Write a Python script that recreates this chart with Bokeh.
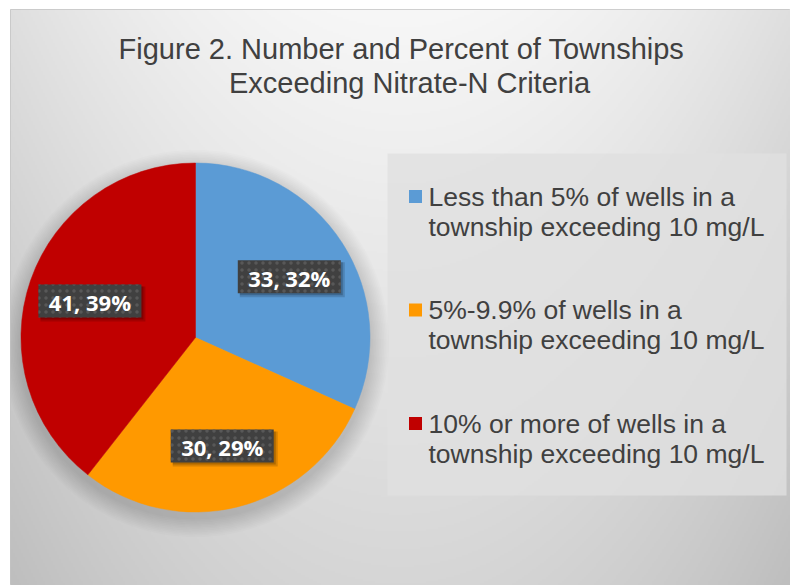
import numpy as np
from bokeh.plotting import figure
from bokeh.models import Range1d
from bokeh.core.properties import value
from bokeh.embed import file_html
from bokeh.resources import INLINE

# ---------------- data ----------------
title_lines = ["Figure 2.  Number and Percent of Townships",
               "Exceeding Nitrate-N Criteria"]
legend_line1 = ["Less than 5% of wells in a",
                "5%-9.9%  of wells in a",
                "10% or more  of wells in a"]
legend_line2 = ["township exceeding 10 mg/L",
                "township exceeding 10 mg/L",
                "township exceeding 10 mg/L"]
counts = [33, 30, 41]
colors = ["#5B9BD5", "#FF9900", "#C00000"]

# ---------------- layout (pixel-like data space) ----------------
W, H = 790, 585
X0, X1 = 10, 790           # frame x extent (page px)
TOP, BOT = 9, 585          # frame y extent (page px)
def Y(yi):
    return BOT - yi

p = figure(width=W, height=H, output_backend="svg", toolbar_location=None,
           x_range=Range1d(X0, X1), y_range=Range1d(0, BOT - TOP),
           min_border_left=X0, min_border_top=TOP, min_border_right=0, min_border_bottom=0,
           x_axis_location=None, y_axis_location=None)
p.grid.visible = False
p.border_fill_color = "white"
p.background_fill_color = "#d8d8d8"
p.outline_line_color = "#c4c4c4"
p.outline_line_width = 1

# background gradient (style only)
nx, ny = 390, 288
xs = np.linspace(X0, X1, nx)
yd = np.linspace(0, BOT - TOP, ny)
XX, YD = np.meshgrid(xs, yd)
YI = BOT - YD
t = (YI - TOP) / 576.0
u = (XX - 400) / 390.0
c = np.clip(247 - 33 * t - 24 * u ** 2, 0, 255).astype(np.uint8)
arr = np.empty((ny, nx, 4), dtype=np.uint8)
arr[..., 0] = c
arr[..., 1] = c
arr[..., 2] = c
arr[..., 3] = 255
img = arr.view(np.uint32).reshape(ny, nx)
p.image_rgba(image=[img], x=X0, y=0, dw=X1 - X0, dh=BOT - TOP)

# title
p.text(x=[405, 409], y=[Y(48), Y(82)], text=title_lines,
       text_align="center", text_baseline="alphabetic",
       text_font=value("Liberation Sans"), text_font_size="29px",
       text_color="#404040")

# legend box
p.quad(left=387, right=786, top=Y(153), bottom=Y(495),
       fill_color="#e0e0e0", fill_alpha=0.8, line_color=None)

# pie
cx, cy, R = 195, Y(337), 174.5
# soft shadow
radii = [R + 1.6 * k for k in range(1, 13)]
p.circle(x=[cx] * len(radii), y=[cy - 6] * len(radii), radius=radii,
         fill_color="black", fill_alpha=0.013, line_color=None)

total = float(sum(counts))
frac = np.array(counts) / total
cum = np.concatenate([[0.0], np.cumsum(frac)])
start = np.pi / 2 - 2 * np.pi * cum[:-1]
end = np.pi / 2 - 2 * np.pi * cum[1:]
p.wedge(x=cx, y=cy, radius=R, start_angle=start, end_angle=end,
        direction="clock", fill_color=colors, line_color=colors, line_width=0.5)

# data labels
mid = np.pi / 2 - 2 * np.pi * (cum[:-1] + frac / 2)
lx = cx + 0.64 * R * np.cos(mid)
ly = cy + 0.64 * R * np.sin(mid)
labels = [f"{n}, {round(f * 100)}%" for n, f in zip(counts, frac)]
p.rect(x=lx + 3, y=ly - 3, width=105, height=35, fill_color="black",
       fill_alpha=0.15, line_color=None)
p.rect(x=lx + 2, y=ly - 2, width=103, height=33, fill_color="black",
       fill_alpha=0.2, line_color=None)
p.rect(x=lx, y=ly, width=103, height=33, fill_color="#404040",
       hatch_pattern="dot", hatch_color="#585858", hatch_scale=7,
       line_color=None)
p.text(x=lx, y=ly - 1, text=labels, text_align="center", text_baseline="middle",
       text_font=value("Open Sans"), text_font_style="bold",
       text_font_size="22px", text_color="white")

# legend entries
row_y = [196 + 113.5 * i for i in range(len(counts))]
p.rect(x=[415] * len(counts), y=[Y(v) for v in row_y], width=13, height=13,
       fill_color=colors, line_color=None)
p.text(x=[428] * len(counts), y=[Y(v) for v in row_y], text=legend_line1,
       text_align="left", text_baseline="middle",
       text_font=value("Liberation Sans"), text_font_size="26.5px",
       text_color="#404040")
p.text(x=[428] * len(counts), y=[Y(v + 30) for v in row_y], text=legend_line2,
       text_align="left", text_baseline="middle",
       text_font=value("Liberation Sans"), text_font_size="26.5px",
       text_color="#404040")

open("out.html", "w").write(file_html(p, INLINE))
